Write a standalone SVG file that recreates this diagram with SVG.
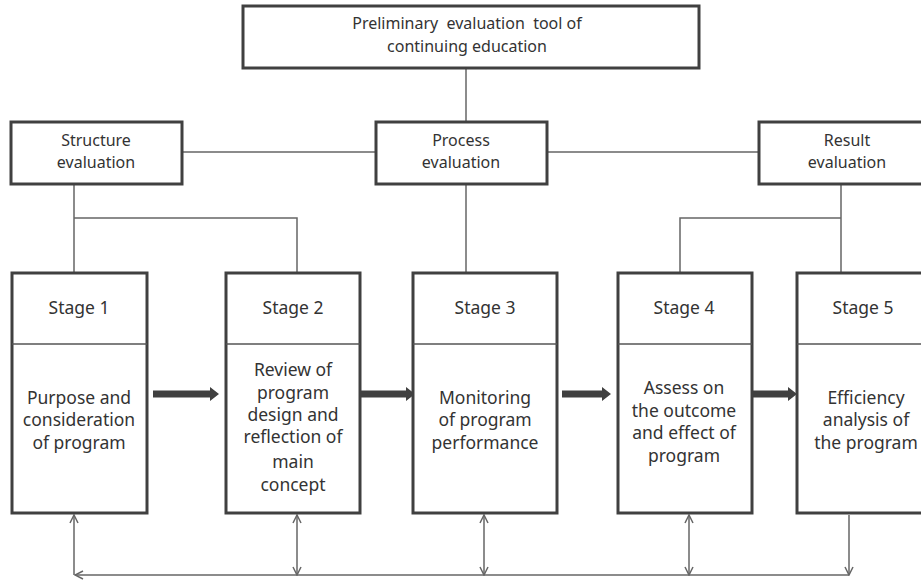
<svg xmlns="http://www.w3.org/2000/svg" width="921" height="582" viewBox="0 0 921 582">
<defs>
<style>
.box{fill:#fff;stroke:#404040;stroke-width:3}
.div{stroke:#555;stroke-width:1.5}
.ln{fill:none;stroke:#666;stroke-width:1.5}
.t{font-family:"Noto Sans","Open Sans",sans-serif;font-size:17.5px;fill:#333;text-anchor:middle}
.th{font-family:"Noto Sans","Open Sans",sans-serif;font-size:16px;fill:#333;text-anchor:middle}
.big{fill:#404040}
</style>
<marker id="oa" viewBox="0 0 10 10" refX="9" refY="5" markerWidth="10" markerHeight="10" markerUnits="userSpaceOnUse" orient="auto-start-reverse">
<path d="M1,1 L9,5 L1,9" fill="none" stroke="#666" stroke-width="1.5"/>
</marker>
</defs>
<g id="connectors">
<path class="ln" d="M466,69 V121"/>
<path class="ln" d="M182,152 H376 M547,152 H759"/>
<path class="ln" d="M74,185 V272 M74,218 H297 V272"/>
<path class="ln" d="M466,185 V272"/>
<path class="ln" d="M841,185 V218 H680 V272 M841,218 V272"/>
<path class="ln" d="M849,575 H75" marker-end="url(#oa)"/>
<path class="ln" d="M74,575 V515" marker-end="url(#oa)"/>
<path class="ln" d="M297,515 V575" marker-start="url(#oa)" marker-end="url(#oa)"/>
<path class="ln" d="M484,515 V575" marker-start="url(#oa)" marker-end="url(#oa)"/>
<path class="ln" d="M689,515 V575" marker-start="url(#oa)" marker-end="url(#oa)"/>
<path class="ln" d="M849,515 V575" marker-end="url(#oa)"/>
<path class="big" d="M153,390.5 H210 V387 L219,394 L210,401 V397.5 H153 Z"/>
<path class="big" d="M360,390.5 H406 V387 L415,394 L406,401 V397.5 H360 Z"/>
<path class="big" d="M562,390.5 H602 V387 L611,394 L602,401 V397.5 H562 Z"/>
<path class="big" d="M752,390.5 H788 V387 L797,394 L788,401 V397.5 H752 Z"/>
</g>
<g id="top">
<rect class="box" x="243" y="6" width="456" height="62"/>
<text class="th" x="467" y="29" xml:space="preserve" style="white-space:pre">Preliminary  evaluation  tool of</text>
<text class="th" x="467" y="52">continuing education</text>
</g>
<g id="structure">
<rect class="box" x="11" y="122" width="171" height="62"/>
<text class="th" x="96" y="146">Structure</text>
<text class="th" x="96" y="168">evaluation</text>
</g>
<g id="process">
<rect class="box" x="376" y="122" width="171" height="62"/>
<text class="th" x="461" y="146">Process</text>
<text class="th" x="461" y="168">evaluation</text>
</g>
<g id="result">
<rect class="box" x="759" y="122" width="180" height="62"/>
<text class="th" x="847" y="146">Result</text>
<text class="th" x="847" y="168">evaluation</text>
</g>
<g id="stage1">
<rect class="box" x="12" y="273" width="135" height="240"/>
<line class="div" x1="12" y1="344" x2="147" y2="344"/>
<text class="t" x="79" y="314">Stage 1</text>
<text class="t" x="79" y="404">Purpose and</text>
<text class="t" x="79" y="426">consideration</text>
<text class="t" x="79" y="449">of program</text>
</g>
<g id="stage2">
<rect class="box" x="226" y="273" width="134" height="240"/>
<line class="div" x1="226" y1="344" x2="360" y2="344"/>
<text class="t" x="293" y="314">Stage 2</text>
<text class="t" x="293" y="376">Review of</text>
<text class="t" x="293" y="399">program</text>
<text class="t" x="293" y="421">design and</text>
<text class="t" x="293" y="443">reflection of</text>
<text class="t" x="293" y="468">main</text>
<text class="t" x="293" y="491">concept</text>
</g>
<g id="stage3">
<rect class="box" x="413" y="273" width="144" height="240"/>
<line class="div" x1="413" y1="344" x2="557" y2="344"/>
<text class="t" x="485" y="314">Stage 3</text>
<text class="t" x="485" y="404">Monitoring</text>
<text class="t" x="485" y="426">of program</text>
<text class="t" x="485" y="449">performance</text>
</g>
<g id="stage4">
<rect class="box" x="618" y="273" width="134" height="240"/>
<line class="div" x1="618" y1="344" x2="752" y2="344"/>
<text class="t" x="684" y="314">Stage 4</text>
<text class="t" x="684" y="394">Assess on</text>
<text class="t" x="684" y="417">the outcome</text>
<text class="t" x="684" y="439">and effect of</text>
<text class="t" x="684" y="462">program</text>
</g>
<g id="stage5">
<rect class="box" x="797" y="273" width="140" height="240"/>
<line class="div" x1="797" y1="344" x2="937" y2="344"/>
<text class="t" x="863" y="314">Stage 5</text>
<text class="t" x="866" y="404">Efficiency</text>
<text class="t" x="866" y="426">analysis of</text>
<text class="t" x="866" y="449">the program</text>
</g>
</svg>
